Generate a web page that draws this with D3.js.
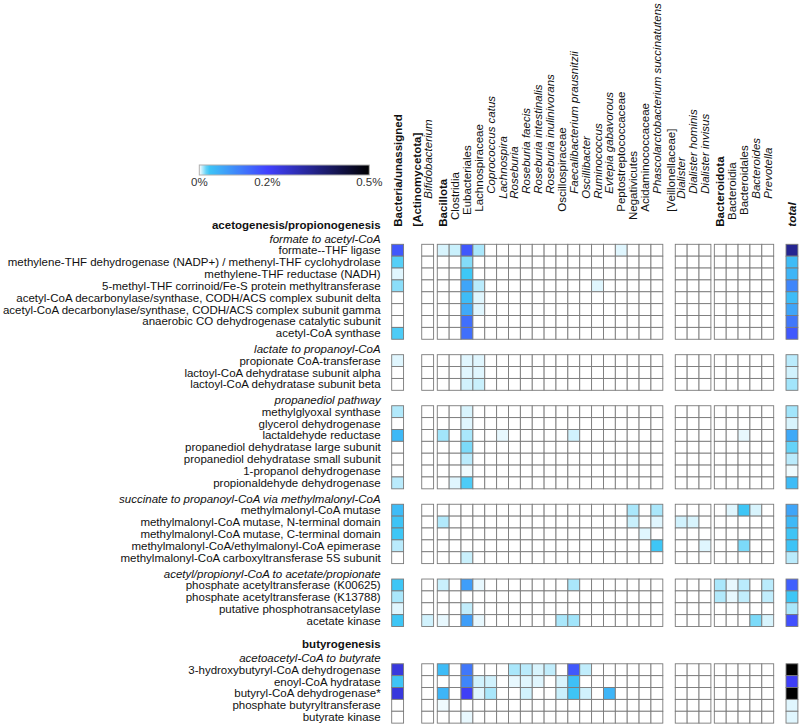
<!DOCTYPE html>
<html><head><meta charset="utf-8">
<script src="https://cdn.jsdelivr.net/npm/d3@7"></script>
<style>body{margin:0;background:#fff}svg{display:block;font-family:"Liberation Sans",Arial,Helvetica,sans-serif}</style>
</head><body><svg id="c" width="800" height="727"></svg>
<script>
// ---------------- DATA ----------------
const columnLabels = ["Bacteria/unassigned","[Actinomycetota]","Bifidobacterium","Bacillota","Clostridia","Eubacteriales","Lachnospiraceae","Coprococcus catus","Lachnospira","Roseburia","Roseburia faecis","Roseburia intestinalis","Roseburia inulinivorans","Oscillospiraceae","Faecalibacterium prausnitzii","Oscillibacter","Ruminococcus","Evtepia gabavorous","Peptostreptococcaceae","Negativicutes","Acidaminococcaceae","Phascolarctobacterium succinatutens","[Veillonellaceae]","Dialister","Dialister hominis","Dialister invisus","Bacteroidota","Bacteroidia","Bacteroidales","Bacteroides","Prevotella","total"];
const columnRanks = ["root","phylum","genus","phylum","class","order","family","species","genus","genus","species","species","species","family","species","genus","genus","species","family","class","family","species","family","genus","species","species","phylum","class","order","genus","genus","total"];
// block membership (-1 = label only, no cells)
const columnBlocks = [0,-1,1,2,2,2,2,2,2,2,2,2,2,2,2,2,2,2,2,2,2,2,-1,3,3,3,4,4,4,4,4,5];
const legendTicks = [0, 0.2, 0.5];
const sections = ["acetogenesis/propionogenesis","butyrogenesis"];
const pathways = ["formate to acetyl-CoA","lactate to propanoyl-CoA","propanediol pathway","succinate to propanoyl-CoA via methylmalonyl-CoA","acetyl/propionyl-CoA to acetate/propionate","acetoacetyl-CoA to butyrate"];
const pathwaySection = [0,0,0,0,0,1];
const functionLabels = [
 "formate--THF ligase",
 "methylene-THF dehydrogenase (NADP+) / methenyl-THF cyclohydrolase",
 "methylene-THF reductase (NADH)",
 "5-methyl-THF corrinoid/Fe-S protein methyltransferase",
 "acetyl-CoA decarbonylase/synthase, CODH/ACS complex subunit delta",
 "acetyl-CoA decarbonylase/synthase, CODH/ACS complex subunit gamma",
 "anaerobic CO dehydrogenase catalytic subunit",
 "acetyl-CoA synthase",
 "propionate CoA-transferase",
 "lactoyl-CoA dehydratase subunit alpha",
 "lactoyl-CoA dehydratase subunit beta",
 "methylglyoxal synthase",
 "glycerol dehydrogenase",
 "lactaldehyde reductase",
 "propanediol dehydratase large subunit",
 "propanediol dehydratase small subunit",
 "1-propanol dehydrogenase",
 "propionaldehyde dehydrogenase",
 "methylmalonyl-CoA mutase",
 "methylmalonyl-CoA mutase, N-terminal domain",
 "methylmalonyl-CoA mutase, C-terminal domain",
 "methylmalonyl-CoA/ethylmalonyl-CoA epimerase",
 "methylmalonyl-CoA carboxyltransferase 5S subunit",
 "phosphate acetyltransferase (K00625)",
 "phosphate acetyltransferase (K13788)",
 "putative phosphotransacetylase",
 "acetate kinase",
 "3-hydroxybutyryl-CoA dehydrogenase",
 "enoyl-CoA hydratase",
 "butyryl-CoA dehydrogenase*",
 "phosphate butyryltransferase",
 "butyrate kinase"
];
const functionPathway = [0,0,0,0,0,0,0,0, 1,1,1, 2,2,2,2,2,2,2, 3,3,3,3,3, 4,4,4,4, 5,5,5,5,5];
// relative abundance (%) per cell column: unassigned, Bifidobacterium, 19 Bacillota cols, 3 Dialister cols, 5 Bacteroidota cols, total
const values = [
 [.17,0,.005,.007,.17,.011,0,0,0,0, 0,0,0,0,0,0,0,.004,0,0, 0,0,0,0,0,0,0,0,0,.33],
 [.022,0,0,0,.016,0,0,0,0,0, 0,0,0,0,0,0,0,0,0,0, 0,0,0,0,0,0,0,0,0,.04],
 [.004,0,0,0,.025,0,0,0,0,0, 0,0,0,0,0,0,0,0,0,0, 0,0,0,0,0,0,0,0,0,.05],
 [.015,0,0,0,.07,.009,0,0,0,0, 0,0,0,0,0,.004,0,0,0,0, 0,0,0,0,0,0,0,0,0,.11],
 [0,0,0,0,.04,.004,0,0,0,0, 0,0,0,0,0,0,0,0,0,0, 0,0,0,0,0,0,0,0,0,.04],
 [0,0,0,0,.065,.004,0,0,0,0, 0,0,0,0,0,0,0,0,0,0, 0,0,0,0,0,0,0,0,0,.07],
 [0,0,0,0,.14,0,0,0,0,0, 0,0,0,0,0,0,0,0,0,0, 0,0,0,0,0,0,0,0,0,.13],
 [.023,0,0,0,.14,0,0,0,0,0, 0,0,0,0,0,0,0,0,0,0, 0,0,0,0,0,0,0,0,0,.17],
 [.004,0,0,0,.004,.004,0,0,0,0, 0,0,0,0,0,0,0,0,0,0, 0,0,0,0,0,0,0,0,0,.009],
 [0,0,0,0,.004,.004,0,0,0,0, 0,0,0,0,0,0,0,0,0,0, 0,0,0,0,0,0,0,0,0,.006],
 [0,0,0,0,.006,.007,0,0,0,0, 0,0,0,0,0,0,0,0,0,0, 0,0,0,0,0,0,0,0,0,.012],
 [.01,0,0,0,.005,0,0,0,0,0, 0,0,0,0,0,0,0,0,0,0, 0,0,0,0,0,0,0,0,0,.012],
 [0,0,0,0,.004,0,0,0,0,0, 0,0,0,0,0,0,0,0,0,0, 0,0,0,0,0,0,0,0,0,.005],
 [.045,0,.012,0,.011,0,0,.003,0,0, 0,0,0,.006,0,0,0,0,0,0, 0,0,0,0,0,0,.003,0,0,.065],
 [0,0,0,0,.017,0,0,0,0,0, 0,0,0,0,0,0,0,0,0,0, 0,0,0,0,0,0,0,0,0,.02],
 [0,0,0,0,.009,0,0,0,0,0, 0,0,0,0,0,0,0,0,0,0, 0,0,0,0,0,0,0,0,0,.009],
 [0,0,0,0,.002,0,0,0,0,0, 0,0,0,0,0,0,0,0,0,0, 0,0,0,0,0,0,0,0,0,.002],
 [.009,0,0,.004,.023,0,0,0,0,0, 0,0,0,0,0,0,0,0,0,0, 0,0,0,0,0,0,0,0,0,.04],
 [.04,0,0,0,0,0,0,0,0,0, 0,0,0,0,0,0,0,0,.011,0, .011,0,0,0,0,.004,.027,.005,0,.07],
 [.03,0,.01,0,0,0,0,0,0,0, 0,0,0,0,0,0,0,0,.007,0, .004,.006,.005,0,0,0,0,0,0,.045],
 [.026,0,0,0,0,0,0,0,0,0, 0,0,0,0,0,0,0,0,0,.004, 0,0,0,0,0,0,0,0,0,.03],
 [.009,0,0,0,0,0,0,0,0,0, 0,0,0,0,0,0,0,0,0,0, .028,0,0,.004,0,0,.017,0,0,.032],
 [0,0,0,0,.007,0,0,0,0,0, 0,0,0,0,0,0,0,0,0,0, 0,0,0,0,0,0,0,0,0,.009],
 [.028,0,.007,0,.08,.003,0,0,0,0, 0,0,0,.011,0,0,0,0,0,0, 0,0,0,0,.011,.003,.009,0,.009,.16],
 [.011,0,0,0,0,0,0,0,0,0, 0,0,0,0,0,0,0,0,0,0, 0,0,0,0,.01,.003,.008,0,.008,.027],
 [.004,0,0,0,.008,0,0,0,0,0, 0,0,0,0,0,0,0,0,0,0, 0,0,0,0,0,0,0,0,0,.011],
 [.028,.006,.003,0,.08,.003,0,0,0,0, 0,0,.011,.012,0,0,0,0,0,0, 0,0,0,0,0,0,0,.017,.005,.18],
 [.24,0,.04,0,.13,0,0,0,.011,.009, .005,.008,0,.17,.008,0,0,0,0,0, 0,0,0,0,0,0,0,0,0,.5],
 [.03,0,0,0,.11,.006,.006,0,.003,.004, .004,0,.005,.035,0,0,0,0,0,0, 0,0,0,0,0,0,0,0,0,.21],
 [.24,0,.05,0,.21,.004,.011,0,0,.006, 0,0,.007,.03,.006,0,.05,0,0,0, 0,0,0,0,0,0,0,0,0,.5],
 [0,0,.002,0,0,0,0,0,0,0, 0,0,0,0,0,0,0,0,0,0, 0,0,0,0,0,0,0,0,0,.004],
 [0,0,0,0,.003,0,0,0,0,0, 0,0,0,0,0,0,0,0,0,0, 0,0,0,0,0,0,0,0,0,.004]
];

// ---------------- LAYOUT ----------------
const fontSize = 11.5;
const cell = 11.87, gridX0 = 391.7, gridY0 = 244.3;
const labelRight = 380.7, colLabelBase = 226.7;
const blockGapUnits = {1:1.53, 2:0.31, 3:1.05, 4:0.29, 5:1.04};
const pathGapUnits = 1.3, sectionExtraUnits = 1.84;
const rankIndent = {root:0, phylum:0, total:0, class:6.7, order:11.7, family:15, genus:28, species:33};

const svg = d3.select("#c");
const x = d3.scaleLinear().domain([0, 1]).range([gridX0, gridX0 + cell]);
const y = d3.scaleLinear().domain([0, 1]).range([gridY0, gridY0 + cell]);
const color = d3.scaleLinear().domain([0, 0.025, 0.2, 0.5])
  .range(["#ffffff", "#3ec8f6", "#4141ff", "#000000"]).clamp(true);

// column units
const colUnit = [];
let u = 0, prevBlock = null;
columnBlocks.forEach((b) => {
  if (b < 0) { colUnit.push(null); return; }
  if (prevBlock !== null && b !== prevBlock) u += blockGapUnits[b];
  colUnit.push(u); u += 1; prevBlock = b;
});
// label-only columns sit just before the next column
columnBlocks.forEach((b, i) => { if (b < 0) colUnit[i] = colUnit[i + 1] - 0.9; });
const cellCols = columnBlocks.map((b, i) => b >= 0 ? i : -1).filter(i => i >= 0);

// row units
const rowUnit = [], pathUnit = [], sectionUnit = [];
let cur = 0;
pathways.forEach((p, pi) => {
  if (pi > 0) {
    cur += pathGapUnits;
    if (pathwaySection[pi] !== pathwaySection[pi - 1]) cur += sectionExtraUnits;
  }
  pathUnit[pi] = cur;
  if (pi === 0 || pathwaySection[pi] !== pathwaySection[pi - 1]) sectionUnit[pathwaySection[pi]] = cur;
  functionLabels.forEach((f, fi) => { if (functionPathway[fi] === pi) { rowUnit[fi] = cur; cur += 1; } });
});

// ---------------- LEGEND ----------------
const lx = d3.scaleLinear().domain([0, 0.5]).range([199.3, 369.3]);
const defs = svg.append("defs");
const grad = defs.append("linearGradient").attr("id", "lg");
d3.range(0, 1.0001, 0.02).forEach(t => {
  grad.append("stop").attr("offset", t).attr("stop-color", color(t * 0.5));
});
svg.append("rect").attr("x", lx(0)).attr("y", 165).attr("width", lx(0.5) - lx(0)).attr("height", 10)
  .attr("fill", "url(#lg)").attr("stroke", "#b0b0b0").attr("stroke-width", 1);
svg.selectAll(".lt").data(legendTicks).join("text")
  .attr("x", d => lx(d)).attr("y", 186).attr("text-anchor", "middle")
  .attr("font-size", fontSize).attr("fill", "#333").text(d => d + "%");

// ---------------- COLUMN LABELS ----------------
svg.selectAll(".cl").data(columnLabels).join("text")
  .attr("transform", (d, i) => `translate(${x(colUnit[i] + 0.5)},${colLabelBase - rankIndent[columnRanks[i]]}) rotate(-90)`)
  .attr("dy", "0.35em").attr("font-size", fontSize).attr("fill", "#111")
  .attr("font-weight", (d, i) => ["root","phylum","total"].includes(columnRanks[i]) ? "bold" : "normal")
  .attr("font-style", (d, i) => ["genus","species","total"].includes(columnRanks[i]) ? "italic" : "normal")
  .text(d => d);

// ---------------- ROW LABELS ----------------
svg.selectAll(".sl").data(sections).join("text")
  .attr("x", labelRight).attr("y", (d, i) => y(sectionUnit[i]) - 19.5).attr("dy", "0.35em")
  .attr("text-anchor", "end").attr("font-size", fontSize).attr("font-weight", "bold").attr("fill", "#111").text(d => d);
svg.selectAll(".pl").data(pathways).join("text")
  .attr("x", labelRight).attr("y", (d, i) => y(pathUnit[i]) - 5.5).attr("dy", "0.35em")
  .attr("text-anchor", "end").attr("font-size", fontSize).attr("font-style", "italic").attr("fill", "#111").text(d => d);
svg.selectAll(".fl").data(functionLabels).join("text")
  .attr("x", labelRight).attr("y", (d, i) => y(rowUnit[i] + 0.5)).attr("dy", "0.35em")
  .attr("text-anchor", "end").attr("font-size", fontSize).attr("fill", "#111").text(d => d);

// ---------------- CELLS ----------------
const cellsData = [];
values.forEach((row, fi) => row.forEach((v, k) => cellsData.push({fi, col: cellCols[k], v})));
svg.append("g").selectAll("rect").data(cellsData).join("rect")
  .attr("x", d => x(colUnit[d.col])).attr("y", d => y(rowUnit[d.fi]))
  .attr("width", cell).attr("height", cell)
  .attr("fill", d => color(d.v)).attr("stroke", "#7a7a7a").attr("stroke-width", 0.9);
</script></body></html>
